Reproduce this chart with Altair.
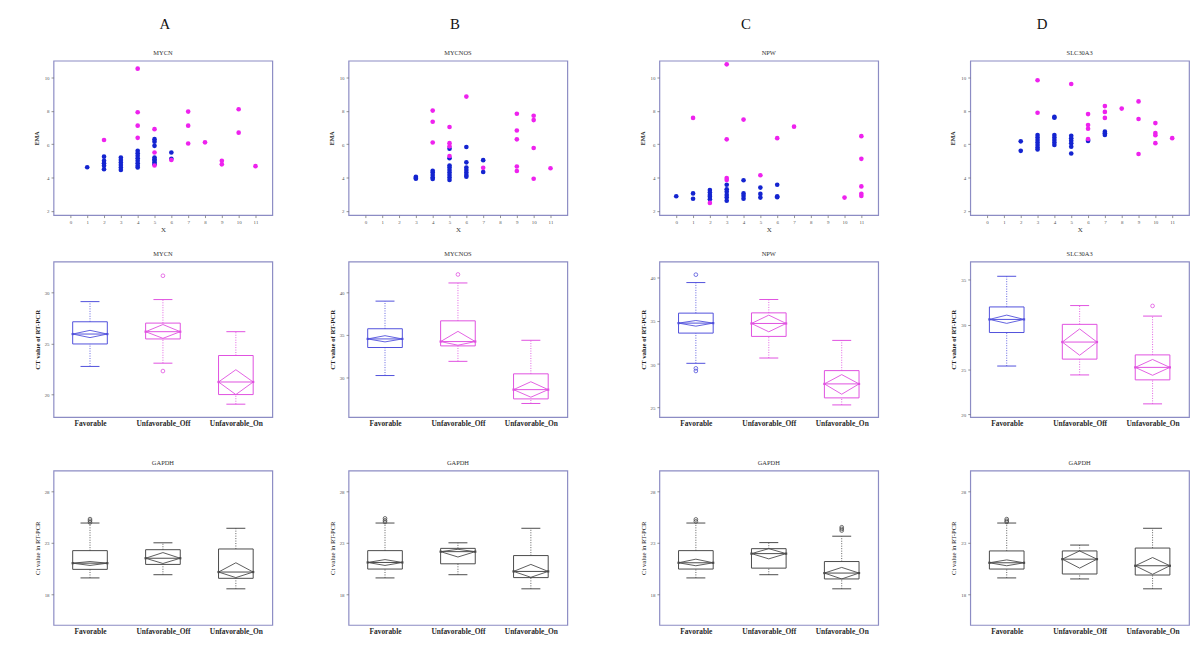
import altair as alt
import pandas as pd

FONT = "Liberation Serif"
FRAME = "#8c8cc4"
BLUE_PT = "#1424d0"
MAG_PT = "#ee22ee"
BLUE_BOX = "#5050dc"
MAG_BOX = "#e050e0"
GREY_BOX = "#4a4a4a"

GENES = ["MYCN", "MYCNOS", "NPW", "SLC30A3"]
LETTERS = ["A", "B", "C", "D"]
GROUPS = ["Favorable", "Unfavorable_Off", "Unfavorable_On"]
SCATTER_X_TICKS = list(range(12))
SCATTER_Y_TICKS = [2, 4, 6, 8, 10]

# ---------------- Row 1: EMA vs X scatter ----------------
MYCN_BLUE_X = [1, 2, 2, 2, 2, 2, 3, 3, 3, 3, 3, 3, 4, 4, 4, 4, 4, 4, 4, 4,
               5, 5, 5, 5, 5, 5, 5, 5, 6, 6]
MYCN_BLUE_Y = [4.62, 5.25, 5.0, 4.85, 4.7, 4.5, 5.2, 5.05, 4.9, 4.75, 4.6, 4.45,
               5.6, 5.45, 5.3, 5.15, 5.0, 4.85, 4.7, 4.6,
               6.3, 6.15, 5.9, 5.2, 5.1, 5.0, 4.9, 4.8, 5.5, 5.12]
MYCN_MAG_X = [2, 4, 4, 4, 4, 5, 5, 5, 6, 7, 7, 7, 8, 9, 9, 10, 10, 11]
MYCN_MAG_Y = [6.25, 10.52, 7.91, 7.11, 6.38, 6.9, 5.5, 4.72, 5.05, 7.95, 7.11, 6.04,
              6.11, 5.0, 4.79, 8.09, 6.69, 4.68]

MYCNOS_BLUE_X = [3, 3, 3, 4, 4, 4, 4, 4, 5, 5, 5, 5, 5, 5, 5, 5, 5,
                 6, 6, 6, 6, 6, 6, 6, 7, 7]
MYCNOS_BLUE_Y = [4.05, 3.98, 3.93, 4.4, 4.3, 4.15, 4.0, 3.92,
                 5.73, 5.16, 4.72, 4.6, 4.45, 4.3, 4.15, 4.0, 3.85,
                 5.83, 4.91, 4.6, 4.45, 4.3, 4.15, 4.05, 5.04, 4.33]
MYCNOS_MAG_X = [4, 4, 4, 5, 5, 5, 5, 6, 7, 9, 9, 9, 9, 9, 10, 10, 10, 10, 11]
MYCNOS_MAG_Y = [8.01, 7.34, 6.1, 7.03, 6.06, 5.87, 5.29, 8.85, 4.58,
                7.82, 6.82, 6.29, 4.66, 4.39, 7.7, 7.44, 5.77, 3.93, 4.56]

NPW_BLUE_X = [0, 1, 1, 2, 2, 2, 2, 2, 3, 3, 3, 3, 3, 3, 4, 4, 4, 4, 5, 5, 5, 6, 6, 6]
NPW_BLUE_Y = [2.88, 3.05, 2.73, 3.25, 3.1, 2.95, 2.85, 2.7,
              3.57, 3.3, 3.15, 2.96, 2.8, 2.61, 3.84, 3.05, 2.9, 2.73,
              3.4, 3.02, 2.8, 3.57, 2.88, 2.82]
NPW_MAG_X = [1, 2, 3, 3, 3, 3, 4, 5, 6, 7, 10, 11, 11, 11, 11, 11]
NPW_MAG_Y = [7.57, 2.48, 10.78, 6.29, 3.97, 3.86, 7.47, 4.14, 6.36, 7.05, 2.8,
             6.48, 5.12, 3.47, 3.03, 2.9]

SLC_BLUE_X = [2, 2, 3, 3, 3, 3, 3, 3, 3, 4, 4, 4, 4, 4, 4, 4,
              5, 5, 5, 5, 5, 5, 6, 6, 7, 7, 7]
SLC_BLUE_Y = [6.17, 5.6, 6.55, 6.4, 6.25, 6.1, 5.95, 5.8, 5.68,
              7.63, 7.58, 6.55, 6.4, 6.25, 6.1, 5.95,
              6.5, 6.35, 6.2, 6.05, 5.85, 5.44, 6.25, 6.19, 6.75, 6.65, 6.55]
SLC_MAG_X = [3, 3, 5, 6, 6, 6, 6, 7, 7, 7, 8, 9, 9, 9, 10, 10, 10, 10, 11]
SLC_MAG_Y = [9.83, 7.88, 9.6, 7.8, 7.15, 6.92, 6.31, 8.28, 7.93, 7.57, 8.13,
             8.56, 7.51, 5.41, 7.26, 6.67, 6.54, 6.06, 6.36]

# ---------------- Row 2: CT value of RT-PCR boxplots ----------------
# per group: (lower whisker, Q1, median, Q3, upper whisker, notch low, notch high)
MYCN_BOX = [(22.75, 24.95, 25.92, 27.12, 29.09, 25.57, 26.28),
            (23.07, 25.44, 26.15, 26.99, 29.29, 25.50, 26.85),
            (19.06, 20.00, 21.23, 23.82, 26.15, 20.00, 22.43)]
MYCN_OUT = [("Unfavorable_Off", 31.62), ("Unfavorable_Off", 22.30)]
MYCNOS_BOX = [(30.19, 33.49, 34.50, 35.70, 38.95, 34.15, 34.88),
              (31.86, 33.68, 34.19, 36.63, 41.09, 33.76, 35.39),
              (26.90, 27.44, 28.53, 30.39, 34.34, 27.64, 29.46)]
MYCNOS_OUT = [("Unfavorable_Off", 42.09)]
NPW_BOX = [(30.09, 33.57, 34.72, 35.87, 39.39, 34.37, 35.02),
           (30.70, 33.19, 34.68, 35.90, 37.44, 33.72, 35.64),
           (25.30, 26.11, 27.72, 29.25, 32.73, 26.53, 28.79)]
NPW_OUT = [("Favorable", 40.3), ("Favorable", 29.51), ("Favorable", 29.21)]
SLC_BOX = [(25.38, 29.11, 30.57, 31.96, 35.37, 30.13, 31.05),
           (24.39, 26.15, 28.05, 30.02, 32.11, 26.58, 29.51),
           (21.17, 23.84, 25.23, 26.62, 30.94, 24.35, 26.11)]
SLC_OUT = [("Unfavorable_On", 32.07)]

# ---------------- Row 3: GAPDH Ct value boxplots ----------------
GAPDH_A_BOX = [(19.57, 20.40, 21.00, 22.22, 24.90, 20.78, 21.16),
               (19.88, 20.88, 21.48, 22.31, 22.98, 20.97, 22.03),
               (18.51, 19.53, 20.14, 22.38, 24.39, 19.60, 21.04)]
GAPDH_A_OUT = [("Favorable", 25.28), ("Favorable", 25.12), ("Favorable", 24.96)]
GAPDH_B_BOX = [(19.57, 20.43, 21.07, 22.22, 24.90, 20.78, 21.35),
               (19.88, 20.94, 22.12, 22.44, 22.98, 21.60, 22.35),
               (18.51, 19.60, 20.20, 21.74, 24.39, 19.63, 20.88)]
GAPDH_B_OUT = [("Favorable", 25.35), ("Favorable", 25.16), ("Favorable", 25.0)]
GAPDH_C_BOX = [(19.57, 20.43, 21.04, 22.22, 24.90, 20.75, 21.39),
               (19.88, 20.52, 21.93, 22.41, 23.00, 21.42, 22.41),
               (18.51, 19.47, 20.04, 21.16, 23.62, 19.47, 20.59)]
GAPDH_C_OUT = [("Favorable", 25.25), ("Favorable", 25.06),
               ("Unfavorable_On", 24.49), ("Unfavorable_On", 24.33), ("Unfavorable_On", 24.17)]
GAPDH_D_BOX = [(19.57, 20.43, 21.04, 22.19, 24.90, 20.75, 21.32),
               (19.47, 19.95, 21.39, 22.19, 22.76, 20.52, 22.19),
               (18.51, 19.85, 20.75, 22.47, 24.39, 19.92, 21.55)]
GAPDH_D_OUT = [("Favorable", 25.28), ("Favorable", 25.12), ("Favorable", 25.0)]

ROW2_DOMAINS = [[17.8, 33.0], [25.3, 43.6], [23.9, 41.8], [19.7, 37.0]]
ROW2_TICKS = [[20, 25, 30], [30, 35, 40], [25, 30, 35, 40], [20, 25, 30, 35]]
GAPDH_DOMAIN = [15, 30]
GAPDH_TICKS = [18, 23, 28]

# ---------------- layout (pixels) ----------------
W = 221
H1, H2, H3 = 156, 157, 156
LEAD = [1, 1, 4, 1]                       # letters row, row1, row2, row3
GAPS_ROW1 = [77, 77, 93]
GAPS_ROW2 = [62, 93, 74]
GAPS_ROW3 = [77, 81, 74]
GAP_L_1 = 19                              # letters -> row1
GAP_1_2 = [47, 47, 47, 41]
GAP_2_3 = [48, 48, 48, 54]
LETTER_DX = [2, -3, -23, -38]
HALF_BOX = 0.2375
HALF_CAP = 0.13


def spacer(w, h, title=None):
    c = alt.Chart(pd.DataFrame({"s": [0]})).mark_point(opacity=0).encode(
        x=alt.value(0), y=alt.value(0))
    props = dict(width=w, height=h, view=alt.ViewBackground(stroke="transparent"))
    if title is not None:
        props["title"] = title
    return c.properties(**props)


def scatter(gene, bx, by, mx, my):
    df = pd.DataFrame({
        "X": bx + mx,
        "EMA": by + my,
        "clr": [BLUE_PT] * len(bx) + [MAG_PT] * len(mx),
    })
    return alt.Chart(df).mark_circle(size=22, opacity=1).encode(
        x=alt.X("X:Q", scale=alt.Scale(domain=[-1, 12], nice=False, zero=False),
                axis=alt.Axis(values=SCATTER_X_TICKS, title="X", labelPadding=2,
                              titlePadding=1, titleFontSize=7, titleFontWeight="normal")),
        y=alt.Y("EMA:Q", scale=alt.Scale(domain=[1.75, 11], nice=False, zero=False),
                axis=alt.Axis(values=SCATTER_Y_TICKS, title="EMA", titlePadding=5,
                              titleFontSize=6, titleFontWeight="bold")),
        color=alt.Color("clr:N", scale=None, legend=None),
    ).properties(width=W, height=H1, title=gene)


def box_panel(title, stats, outliers, ydom, yticks, ytitle, colors, height, ytw):
    xscale = alt.Scale(domain=[0.5, 3.5], nice=False, zero=False)
    yscale = alt.Scale(domain=ydom, nice=False, zero=False)
    label_expr = "[" + ",".join("'%s'" % g for g in GROUPS) + "][datum.value - 1]"
    xaxis = alt.Axis(values=[1, 2, 3], labelExpr=label_expr, title=None, ticks=False,
                     labelFontSize=7.5, labelFontWeight="bold", labelColor="#2a2a2a",
                     labelPadding=3)
    yaxis = alt.Axis(values=yticks, title=ytitle, titlePadding=4, titleFontSize=6.8,
                     titleFontWeight=ytw, titleColor="#222")
    col = alt.Color("clr:N", scale=None, legend=None)

    def X(f):
        return alt.X(f, type="quantitative", scale=xscale, axis=xaxis)

    def Y(f):
        return alt.Y(f, type="quantitative", scale=yscale, axis=yaxis)

    rows, dia, ends = [], [], []
    for i, (g, s) in enumerate(zip(GROUPS, stats)):
        lo, q1, med, q3, hi, nlo, nhi = s
        c = i + 1
        clr = colors[i]
        rows.append(dict(group=g, clr=clr, c=c, left=c - HALF_BOX, right=c + HALF_BOX,
                         capl=c - HALF_CAP, capr=c + HALF_CAP,
                         lo=lo, q1=q1, med=med, q3=q3, hi=hi))
        verts = [(c - HALF_BOX, med), (c, nhi), (c + HALF_BOX, med), (c, nlo), (c - HALF_BOX, med)]
        for k, (vx, vy) in enumerate(verts):
            dia.append(dict(group=g, clr=clr, k=k, vx=vx, vy=vy))
        ends.append(dict(group=g, clr=clr, ex=c - HALF_BOX, ey=med))
        ends.append(dict(group=g, clr=clr, ex=c + HALF_BOX, ey=med))
    st = pd.DataFrame(rows)
    dd = pd.DataFrame(dia)
    ed = pd.DataFrame(ends)
    od = pd.DataFrame([dict(group=g, clr=colors[GROUPS.index(g)], c=GROUPS.index(g) + 1, v=v)
                       for g, v in outliers])

    base = alt.Chart(st)
    box = base.mark_rect(filled=False, strokeWidth=1).encode(
        x=X("left"), x2="right", y=Y("q1"), y2="q3", color=col)
    wh_up = base.mark_rule(strokeDash=[1, 1.5], strokeWidth=0.9).encode(
        x=X("c"), y=Y("q3"), y2="hi", color=col)
    wh_lo = base.mark_rule(strokeDash=[1, 1.5], strokeWidth=0.9).encode(
        x=X("c"), y=Y("lo"), y2="q1", color=col)
    cap_up = base.mark_rule(strokeWidth=1).encode(x=X("capl"), x2="capr", y=Y("hi"), color=col)
    cap_lo = base.mark_rule(strokeWidth=1).encode(x=X("capl"), x2="capr", y=Y("lo"), color=col)
    med = base.mark_rule(strokeWidth=1).encode(x=X("left"), x2="right", y=Y("med"), color=col)
    diamond = alt.Chart(dd).mark_line(strokeWidth=0.9).encode(
        x=X("vx"), y=Y("vy"), order="k:O", detail="group:N", color=col)
    dots = alt.Chart(ed).mark_square(size=5, filled=True, opacity=1).encode(
        x=X("ex"), y=Y("ey"), color=col)
    layers = [box, wh_up, wh_lo, cap_up, cap_lo, med, diamond, dots]
    if len(od):
        outs = alt.Chart(od).mark_point(shape="circle", size=14, filled=False,
                                        strokeWidth=0.8, opacity=1).encode(
            x=X("c"), y=Y("v"), color=col)
        layers.append(outs)
    return alt.layer(*layers).properties(width=W, height=height, title=title)


scatters = [
    scatter(GENES[0], MYCN_BLUE_X, MYCN_BLUE_Y, MYCN_MAG_X, MYCN_MAG_Y),
    scatter(GENES[1], MYCNOS_BLUE_X, MYCNOS_BLUE_Y, MYCNOS_MAG_X, MYCNOS_MAG_Y),
    scatter(GENES[2], NPW_BLUE_X, NPW_BLUE_Y, NPW_MAG_X, NPW_MAG_Y),
    scatter(GENES[3], SLC_BLUE_X, SLC_BLUE_Y, SLC_MAG_X, SLC_MAG_Y),
]
letters = [spacer(W, 1, alt.TitleParams(L, fontSize=15, font=FONT, color="#111",
                                        fontWeight="normal", dx=dx, offset=6))
           for L, dx in zip(LETTERS, LETTER_DX)]

row2_colors = [BLUE_BOX, MAG_BOX, MAG_BOX]
row2_stats = [MYCN_BOX, MYCNOS_BOX, NPW_BOX, SLC_BOX]
row2_outs = [MYCN_OUT, MYCNOS_OUT, NPW_OUT, SLC_OUT]
boxes2 = [box_panel(g, s, o, d, t, "CT value of RT-PCR", row2_colors, H2, "bold")
          for g, s, o, d, t in zip(GENES, row2_stats, row2_outs, ROW2_DOMAINS, ROW2_TICKS)]

grey = [GREY_BOX, GREY_BOX, GREY_BOX]
g_stats = [GAPDH_A_BOX, GAPDH_B_BOX, GAPDH_C_BOX, GAPDH_D_BOX]
g_outs = [GAPDH_A_OUT, GAPDH_B_OUT, GAPDH_C_OUT, GAPDH_D_OUT]
boxes3 = [box_panel("GAPDH", s, o, GAPDH_DOMAIN, GAPDH_TICKS, "Ct value in RT-PCR", grey, H3, "normal")
          for s, o in zip(g_stats, g_outs)]


def content_row(lead, panels, gaps):
    cells = [spacer(lead, 1)]
    for i, p in enumerate(panels):
        cells.append(p)
        if i < len(gaps):
            cells.append(spacer(gaps[i], 1))
    return cells


def gap_row(heights):
    cells = [spacer(1, 1)]
    for i, h in enumerate(heights):
        cells.append(spacer(1, h))
        if i < len(heights) - 1:
            cells.append(spacer(1, 1))
    return cells


cells = []
cells += content_row(LEAD[0], letters, GAPS_ROW1)
cells += gap_row([GAP_L_1] * 4)
cells += content_row(LEAD[1], scatters, GAPS_ROW1)
cells += gap_row(GAP_1_2)
cells += content_row(LEAD[2], boxes2, GAPS_ROW2)
cells += gap_row(GAP_2_3)
cells += content_row(LEAD[3], boxes3, GAPS_ROW3)

chart = alt.concat(*cells, columns=8, spacing=0, align="none", bounds="flush").properties(
    padding={"left": 24, "top": 5, "right": 2, "bottom": 2}
).configure_view(
    stroke=FRAME, strokeWidth=1.2
).configure_axis(
    domain=False, grid=False, tickSize=2.5, tickColor="#777", tickWidth=0.8,
    labelFont=FONT, titleFont=FONT, labelFontSize=5, labelColor="#555",
    titleColor="#333"
).configure_title(
    font=FONT, fontSize=6.5, fontWeight="normal", color="#333", offset=4
)

chart.save("out.html", embed_options={"renderer": "svg", "actions": False})
